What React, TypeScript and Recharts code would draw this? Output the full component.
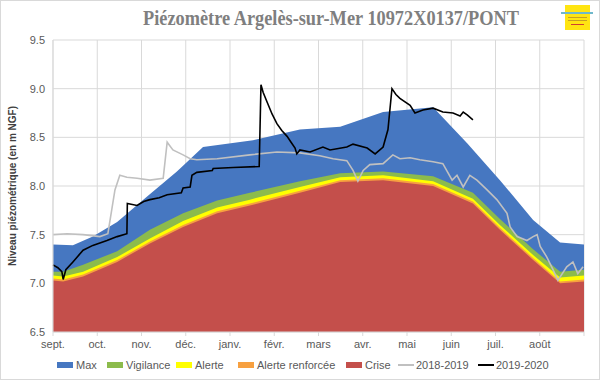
import { ComposedChart, Area, Line, XAxis, YAxis, CartesianGrid } from "recharts";

// time axis in months since 1 Sept
const MONTHS = ["sept.", "oct.", "nov.", "déc.", "janv.", "févr.", "mars", "avr.", "mai", "juin", "juil.", "août"];
const MONTH_TICKS = [0, 1, 2, 3, 4, 5, 6, 7, 8, 9, 10, 11, 12];
const LEVEL_TICKS = [6.5, 7, 7.5, 8, 8.5, 9, 9.5];

// threshold curves (m NGF)
const maxX = [0, 0.45, 0.9, 1.45, 2.12, 2.8, 3.39, 4.52, 5.58, 6.49, 7.46, 8.59, 9.36, 10.1, 10.85, 11.46, 12];
const maxV = [7.40, 7.39, 7.48, 7.63, 7.89, 8.15, 8.40, 8.47, 8.58, 8.61, 8.76, 8.81, 8.44, 8.06, 7.65, 7.42, 7.40];

const thrX = [0, 0.23, 0.68, 1.45, 2.19, 2.94, 3.71, 4.45, 5.58, 6.49, 7.46, 8.59, 9.49, 10.1, 10.85, 11.46, 12];
const vigilanceV = [7.12, 7.12, 7.19, 7.33, 7.55, 7.72, 7.85, 7.93, 8.05, 8.13, 8.15, 8.10, 7.93, 7.66, 7.35, 7.12, 7.14];
const alerteV = [7.08, 7.07, 7.12, 7.27, 7.46, 7.64, 7.78, 7.86, 7.99, 8.09, 8.11, 8.05, 7.87, 7.60, 7.29, 7.06, 7.08];
const renforceeV = [7.05, 7.04, 7.09, 7.24, 7.43, 7.60, 7.74, 7.82, 7.95, 8.06, 8.08, 8.02, 7.84, 7.57, 7.26, 7.02, 7.04];
const criseV = [7.03, 7.02, 7.07, 7.22, 7.41, 7.58, 7.72, 7.80, 7.93, 8.04, 8.06, 8.00, 7.82, 7.55, 7.24, 7.00, 7.02];

// measured levels
const y1819X = [0, 0.32, 0.68, 1.06, 1.24, 1.40, 1.51, 1.67, 1.90, 2.19, 2.49, 2.58, 2.71, 2.94, 3.10, 3.25, 3.71, 4.45, 5.06, 5.58,
  6.03, 6.33, 6.64, 6.78, 6.89, 7.01, 7.16, 7.46, 7.68, 7.84, 8.07, 8.29, 8.59, 8.81, 9.02, 9.13, 9.27, 9.42, 9.58, 9.81,
  10.03, 10.26, 10.33, 10.49, 10.71, 10.85, 10.94, 11.01, 11.16, 11.30, 11.41, 11.61, 11.75, 11.86, 11.98];
const y1819V = [7.50, 7.51, 7.50, 7.48, 7.51, 7.96, 8.11, 8.09, 8.08, 8.06, 8.08, 8.45, 8.37, 8.32, 8.28, 8.27, 8.28, 8.32, 8.35, 8.34,
  8.31, 8.28, 8.26, 8.16, 8.05, 8.16, 8.22, 8.23, 8.32, 8.28, 8.29, 8.27, 8.25, 8.23, 8.06, 8.11, 7.99, 8.11, 8.06, 7.96,
  7.86, 7.72, 7.58, 7.48, 7.44, 7.48, 7.50, 7.38, 7.27, 7.14, 7.03, 7.17, 7.22, 7.10, 7.17];

const y1920X = [0, 0.11, 0.2, 0.23, 0.29, 0.45, 0.68, 0.9, 1.22, 1.45, 1.67, 1.68, 1.9, 2.05, 2.19, 2.4, 2.58, 2.9, 2.94, 3.1,
  3.14, 3.25, 3.6, 3.62, 4.07, 4.66, 4.7, 4.75, 4.84, 4.95, 5.06, 5.17, 5.29, 5.38, 5.47, 5.51, 5.58, 5.81, 6.1, 6.26,
  6.64, 6.78, 7.1, 7.28, 7.46, 7.57, 7.66, 7.75, 7.84, 8.07, 8.18, 8.36, 8.59, 8.81, 9.04, 9.2, 9.27, 9.36, 9.49];
const y1920V = [7.19, 7.16, 7.12, 7.04, 7.14, 7.22, 7.34, 7.39, 7.44, 7.48, 7.51, 7.82, 7.80, 7.84, 7.86, 7.88, 7.91, 7.93, 7.98, 7.99,
  8.11, 8.14, 8.16, 8.18, 8.19, 8.20, 9.04, 8.96, 8.86, 8.74, 8.64, 8.57, 8.51, 8.45, 8.39, 8.33, 8.37, 8.35, 8.40, 8.37,
  8.40, 8.43, 8.39, 8.33, 8.40, 8.58, 9.00, 8.94, 8.90, 8.83, 8.75, 8.78, 8.80, 8.76, 8.75, 8.72, 8.76, 8.73, 8.68];

const zip = (xs: number[], vs: number[]) => xs.map((x, i) => ({ x, y: vs[i] }));

const C = {
  max: "#4677c1",
  vig: "#8cbb4c",
  alerte: "#ffff00",
  renf: "#f7a040",
  crise: "#c44f4b",
  g1819: "#c0c0c0",
  g1920: "#000000",
};

const LEGEND = [
  { name: "Max", color: C.max, kind: "box", left: 57 },
  { name: "Vigilance", color: C.vig, kind: "box", left: 107 },
  { name: "Alerte", color: C.alerte, kind: "box", left: 176 },
  { name: "Alerte renforcée", color: C.renf, kind: "box", left: 238 },
  { name: "Crise", color: C.crise, kind: "box", left: 346 },
  { name: "2018-2019", color: C.g1819, kind: "line", left: 398 },
  { name: "2019-2020", color: C.g1920, kind: "line", left: 478 },
];

const font = "'Liberation Sans', Arial, sans-serif";

export default function App() {
  const tick = { fontSize: 11, fill: "#595959", fontFamily: font };
  return (
    <div style={{ position: "absolute", left: 0, top: 0, width: 600, height: 380, background: "#fff", overflow: "hidden" }}>
      <svg width={600} height={40} style={{ position: "absolute", left: 0, top: 0 }}>
        <text x={143} y={25} textLength={376} lengthAdjust="spacingAndGlyphs"
          fontFamily="'Liberation Serif', 'DejaVu Serif', serif" fontWeight="bold" fontSize={21} fill="#7f7f7f">
          Piézomètre Argelès-sur-Mer  10972X0137/PONT
        </text>
        <rect x={565} y={5} width={25} height={25} fill="#ffe512" />
        <rect x={561} y={12} width={32} height={2} fill="#6fb8cc" />
        <rect x={568} y={17} width={19} height={1} fill="#c8a020" />
        <rect x={568} y={20} width={19} height={1} fill="#c8a020" />
        <rect x={571} y={24} width={13} height={1} fill="#d04030" />
      </svg>

      <div style={{ position: "absolute", left: 0, top: 0 }}>
        <ComposedChart width={600} height={380} margin={{ top: 40, right: 16, bottom: 18, left: 0 }}>
          <CartesianGrid stroke="#d9d9d9" />
          <XAxis type="number" dataKey="x" domain={[0, 12]} ticks={MONTH_TICKS} interval={0}
            tickFormatter={(v: number) => MONTHS[v] ?? ""} tick={tick} height={30}
            axisLine={{ stroke: "#d9d9d9" }} tickLine={{ stroke: "#d9d9d9" }} tickSize={4} tickMargin={4} />
          <YAxis type="number" domain={[6.5, 9.5]} ticks={LEVEL_TICKS} interval={0} width={53}
            tickFormatter={(v: number) => v.toFixed(1)} tick={tick}
            axisLine={{ stroke: "#d9d9d9" }} tickLine={false} tickSize={0} tickMargin={8} />
          <Area data={zip(maxX, maxV)} dataKey="y" name="Max" type="linear" fill={C.max} fillOpacity={1} stroke="none" isAnimationActive={false} />
          <Area data={zip(thrX, vigilanceV)} dataKey="y" name="Vigilance" type="linear" fill={C.vig} fillOpacity={1} stroke="none" isAnimationActive={false} />
          <Area data={zip(thrX, alerteV)} dataKey="y" name="Alerte" type="linear" fill={C.alerte} fillOpacity={1} stroke="none" isAnimationActive={false} />
          <Area data={zip(thrX, renforceeV)} dataKey="y" name="Alerte renforcée" type="linear" fill={C.renf} fillOpacity={1} stroke="none" isAnimationActive={false} />
          <Area data={zip(thrX, criseV)} dataKey="y" name="Crise" type="linear" fill={C.crise} fillOpacity={1} stroke="none" isAnimationActive={false} />
          <Line data={zip(y1819X, y1819V)} dataKey="y" name="2018-2019" type="linear" stroke={C.g1819} strokeWidth={1.6} dot={false} isAnimationActive={false} />
          <Line data={zip(y1920X, y1920V)} dataKey="y" name="2019-2020" type="linear" stroke={C.g1920} strokeWidth={1.6} dot={false} isAnimationActive={false} />
        </ComposedChart>
      </div>

      <div style={{
        position: "absolute", left: 12, top: 186, transform: "translate(-50%, -50%) rotate(-90deg)",
        whiteSpace: "nowrap", fontFamily: font, fontWeight: "bold", fontSize: 10, color: "#404040",
      }}>
        Niveau piézométrique (en m NGF)
      </div>

      {LEGEND.map((l) => (
        <div key={l.name} style={{
          position: "absolute", left: l.left, top: 358, height: 14, display: "flex", alignItems: "center",
          fontFamily: font, fontSize: 11, color: "#595959", whiteSpace: "nowrap",
        }}>
          {l.kind === "box"
            ? <span style={{ width: 16, height: 6, background: l.color, marginRight: 3 }} />
            : <span style={{ width: 16, height: 2, background: l.color, marginRight: 2 }} />}
          {l.name}
        </div>
      ))}

      <div style={{ position: "absolute", left: 0, top: 0, width: 600, height: 380, boxSizing: "border-box", border: "1px solid #d9d9d9", pointerEvents: "none" }} />
    </div>
  );
}
